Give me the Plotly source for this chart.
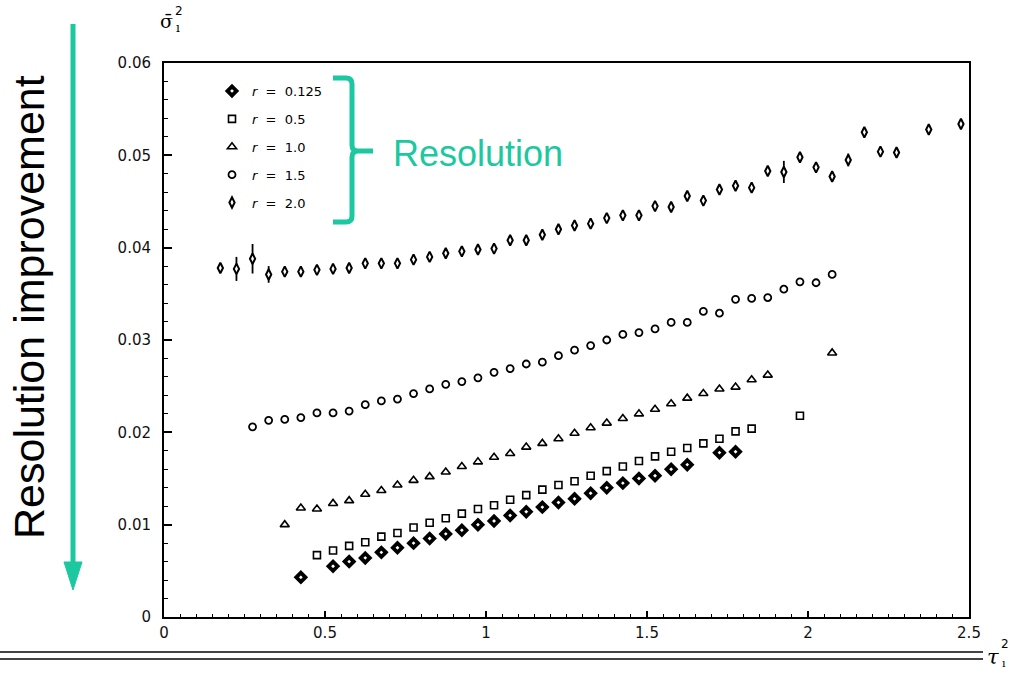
import plotly.graph_objects as go

# ---------------- data ----------------
r0125_x = [0.425, 0.525, 0.575, 0.625, 0.675, 0.725, 0.775, 0.825, 0.875, 0.925, 0.975,
           1.025, 1.075, 1.125, 1.175, 1.225, 1.275, 1.325, 1.375, 1.425, 1.475, 1.525,
           1.575, 1.625, 1.725, 1.775]
r0125_y = [0.0043, 0.0055, 0.0060, 0.0064, 0.0070, 0.0075, 0.0080, 0.0085, 0.0090, 0.0094,
           0.0100, 0.0104, 0.0110, 0.0114, 0.0119, 0.0124, 0.0128, 0.0134, 0.0140, 0.0145,
           0.0150, 0.0153, 0.0160, 0.0165, 0.0178, 0.0179]

r05_x = [0.475, 0.525, 0.575, 0.625, 0.675, 0.725, 0.775, 0.825, 0.875, 0.925, 0.975,
         1.025, 1.075, 1.125, 1.175, 1.225, 1.275, 1.325, 1.375, 1.425, 1.475, 1.525,
         1.575, 1.625, 1.675, 1.725, 1.775, 1.825, 1.975]
r05_y = [0.0067, 0.0072, 0.0077, 0.0081, 0.0087, 0.0091, 0.0097, 0.0102, 0.0107, 0.0112,
         0.0117, 0.0121, 0.0127, 0.0132, 0.0138, 0.0143, 0.0147, 0.0153, 0.0158, 0.0163,
         0.0169, 0.0174, 0.0179, 0.0183, 0.0188, 0.0193, 0.0201, 0.0204, 0.0218]

r10_x = [0.375, 0.425, 0.475, 0.525, 0.575, 0.625, 0.675, 0.725, 0.775, 0.825, 0.875,
         0.925, 0.975, 1.025, 1.075, 1.125, 1.175, 1.225, 1.275, 1.325, 1.375, 1.425,
         1.475, 1.525, 1.575, 1.625, 1.675, 1.725, 1.775, 1.825, 1.875, 2.075]
r10_y = [0.0100, 0.0118, 0.0117, 0.0123, 0.0126, 0.0133, 0.0137, 0.0143, 0.0148, 0.0152,
         0.0157, 0.0163, 0.0168, 0.0173, 0.0177, 0.0184, 0.0188, 0.0193, 0.0199, 0.0205,
         0.0210, 0.0215, 0.0220, 0.0225, 0.0231, 0.0237, 0.0242, 0.0247, 0.0249, 0.0257,
         0.0262, 0.0286]

r15_x = [0.275, 0.325, 0.375, 0.425, 0.475, 0.525, 0.575, 0.625, 0.675, 0.725, 0.775,
         0.825, 0.875, 0.925, 0.975, 1.025, 1.075, 1.125, 1.175, 1.225, 1.275, 1.325,
         1.375, 1.425, 1.475, 1.525, 1.575, 1.625, 1.675, 1.725, 1.775, 1.825, 1.875,
         1.925, 1.975, 2.025, 2.075]
r15_y = [0.0206, 0.0213, 0.0214, 0.0216, 0.0221, 0.0221, 0.0223, 0.0230, 0.0234, 0.0236,
         0.0242, 0.0247, 0.0252, 0.0255, 0.0259, 0.0265, 0.0269, 0.0274, 0.0276, 0.0283,
         0.0289, 0.0294, 0.0300, 0.0306, 0.0308, 0.0312, 0.0319, 0.0319, 0.0331, 0.0329,
         0.0344, 0.0345, 0.0346, 0.0355, 0.0363, 0.0362, 0.0371]

r20_x = [0.175, 0.225, 0.275, 0.325, 0.375, 0.425, 0.475, 0.525, 0.575, 0.625, 0.675,
         0.725, 0.775, 0.825, 0.875, 0.925, 0.975, 1.025, 1.075, 1.125, 1.175, 1.225,
         1.275, 1.325, 1.375, 1.425, 1.475, 1.525, 1.575, 1.625, 1.675, 1.725, 1.775,
         1.825, 1.875, 1.925, 1.975, 2.025, 2.075, 2.125, 2.175, 2.225, 2.275, 2.375, 2.475]
r20_y = [0.0378, 0.0377, 0.0388, 0.0371, 0.0374, 0.0374, 0.0376, 0.0377, 0.0378, 0.0383,
         0.0383, 0.0383, 0.0387, 0.0390, 0.0394, 0.0396, 0.0398, 0.0399, 0.0408, 0.0408,
         0.0414, 0.0420, 0.0424, 0.0426, 0.0432, 0.0435, 0.0435, 0.0445, 0.0444, 0.0456,
         0.0451, 0.0463, 0.0467, 0.0465, 0.0483, 0.0482, 0.0498, 0.0487, 0.0477, 0.0495,
         0.0525, 0.0504, 0.0503, 0.0528, 0.0534]
r20_err = [0.0004, 0.0013, 0.0016, 0.0009, 0.0004, 0.0004, 0.0004, 0.0004, 0.0004, 0.0004,
           0.0004, 0.0004, 0.0004, 0.0004, 0.0004, 0.0004, 0.0004, 0.0004, 0.0004, 0.0004,
           0.0004, 0.0004, 0.0004, 0.0004, 0.0004, 0.0004, 0.0004, 0.0004, 0.0004, 0.0004,
           0.0004, 0.0004, 0.0004, 0.0004, 0.0004, 0.0012, 0.0004, 0.0004, 0.0004, 0.0007,
           0.0004, 0.0004, 0.0004, 0.0004, 0.0004]

series_names = ["<i>r</i>  =  0.125", "<i>r</i>  =  0.5", "<i>r</i>  =  1.0",
                "<i>r</i>  =  1.5", "<i>r</i>  =  2.0"]

x_tickvals = [0, 0.5, 1, 1.5, 2, 2.5]
x_ticktext = ["0", "0.5", "1", "1.5", "2", "2.5"]
y_tickvals = [0, 0.01, 0.02, 0.03, 0.04, 0.05, 0.06]
y_ticktext = ["0", "0.01", "0.02", "0.03", "0.04", "0.05", "0.06"]

# ---------------- layout geometry ----------------
W, H = 1013, 674
L, R, T, B = 164, 44, 63, 57
PW, PH = W - L - R, H - T - B
GREEN = "#1cc8a0"


def px(x):
    return (x - L) / PW


def py(y):
    return (H - B - y) / PH


fig = go.Figure()

# error bars of r = 2.0 (drawn first, below the markers)
fig.add_trace(go.Scatter(
    x=r20_x, y=r20_y, mode="markers", showlegend=False, hoverinfo="skip",
    marker=dict(size=1, color="rgba(0,0,0,0)"),
    error_y=dict(type="data", array=r20_err, visible=True, color="black",
                 thickness=1.8, width=0)))

styles = [
    (r0125_x, r0125_y, dict(symbol="diamond", size=7, color="white",
                            line=dict(color="black", width=3.8))),
    (r05_x, r05_y, dict(symbol="square", size=7, color="white",
                        line=dict(color="black", width=1.6))),
    (r10_x, r10_y, dict(symbol="triangle-up", size=8, color="white",
                        line=dict(color="black", width=1.6))),
    (r15_x, r15_y, dict(symbol="circle", size=7, color="white",
                        line=dict(color="black", width=1.8))),
    (r20_x, r20_y, dict(symbol="diamond-tall", size=7.5, color="white",
                        line=dict(color="black", width=2))),
]
for i, (xs, ys, mk) in enumerate(styles):
    fig.add_trace(go.Scatter(x=xs, y=ys, mode="markers", name=series_names[i],
                             legendgroup=f"g{i}", marker=mk))

axis_common = dict(showline=True, linecolor="black", linewidth=2, mirror=True,
                   showgrid=False, zeroline=False, ticks="inside", tickcolor="black",
                   tickfont=dict(family="DejaVu Sans", size=15, color="#111"))

fig.update_xaxes(range=[0, 2.5], tickvals=x_tickvals, ticktext=x_ticktext,
                 ticklen=6, tickwidth=1.5, ticklabelstandoff=1,
                 minor=dict(dtick=0.05, ticks="inside", ticklen=3, tickwidth=1,
                            tickcolor="black"),
                 **axis_common)
fig.update_yaxes(range=[0, 0.06], tickvals=y_tickvals, ticktext=y_ticktext,
                 ticklen=8, tickwidth=1.5, ticklabelstandoff=8,
                 minor=dict(dtick=0.002, ticks="inside", ticklen=4, tickwidth=1,
                            tickcolor="black"),
                 **axis_common)


def ann(text, x, y, font, **kw):
    d = dict(text=text, x=px(x), y=py(y), xref="paper", yref="paper", showarrow=False,
             xanchor="center", yanchor="middle", font=font)
    d.update(kw)
    return d


annotations = [
    ann("Resolution improvement", 29, 307,
        dict(family="Liberation Sans", size=43, color="black"), textangle=-90),
    ann("Resolution", 478, 153, dict(family="Liberation Sans", size=36, color=GREEN)),
    # y-axis title
    ann("σ̄", 166, 21, dict(family="DejaVu Serif", size=19, color="black")),
    ann("2", 179, 11, dict(family="DejaVu Sans", size=12, color="black")),
    ann("ı", 178, 28, dict(family="DejaVu Serif", size=12, color="black")),
    # x-axis title
    ann("<i>τ</i>", 993, 657, dict(family="DejaVu Serif", size=21, color="black")),
    ann("2", 1005, 644, dict(family="DejaVu Sans", size=12, color="black")),
    ann("ı", 1004, 663, dict(family="DejaVu Serif", size=11, color="black")),
]


def path(points_cmds):
    out = []
    for cmd, pts in points_cmds:
        coords = " ".join(f"{px(a):.5f},{py(b):.5f}" for a, b in pts)
        out.append(f"{cmd} {coords}")
    return " ".join(out)


bracket = path([
    ("M", [(333, 78)]), ("L", [(346, 78)]), ("Q", [(352, 78), (352, 84)]),
    ("L", [(352, 145)]), ("Q", [(352, 151), (358, 151)]), ("L", [(373, 151)]),
    ("M", [(358, 151)]), ("Q", [(352, 151), (352, 157)]),
    ("L", [(352, 216)]), ("Q", [(352, 222), (346, 222)]), ("L", [(333, 222)]),
])
arrow_head = path([("M", [(64, 562)]), ("L", [(82, 562)]), ("L", [(73, 590)]), ("Z", [])])

shapes = [
    dict(type="path", path=bracket, xref="paper", yref="paper",
         line=dict(color=GREEN, width=5)),
    dict(type="line", x0=px(73), x1=px(73), y0=py(24), y1=py(566), xref="paper", yref="paper",
         line=dict(color=GREEN, width=5)),
    dict(type="path", path=arrow_head, xref="paper", yref="paper",
         fillcolor=GREEN, line=dict(color=GREEN, width=1)),
    dict(type="line", x0=px(0), x1=px(983), y0=py(652), y1=py(652), xref="paper",
         yref="paper", line=dict(color="#444", width=2)),
    dict(type="line", x0=px(0), x1=px(983), y0=py(659), y1=py(659), xref="paper",
         yref="paper", line=dict(color="#444", width=2)),
]

fig.update_layout(
    width=W, height=H, margin=dict(l=L, r=R, t=T, b=B),
    paper_bgcolor="white", plot_bgcolor="white",
    showlegend=True,
    legend=dict(x=px(212), y=py(76), xanchor="left", yanchor="top",
                bgcolor="rgba(0,0,0,0)", tracegroupgap=8,
                font=dict(family="DejaVu Sans", size=13, color="black")),
    annotations=annotations, shapes=shapes,
)

fig.write_html("out.html", config={"displayModeBar": False},
               post_script="document.body.style.margin='0';document.body.style.padding='0';")
